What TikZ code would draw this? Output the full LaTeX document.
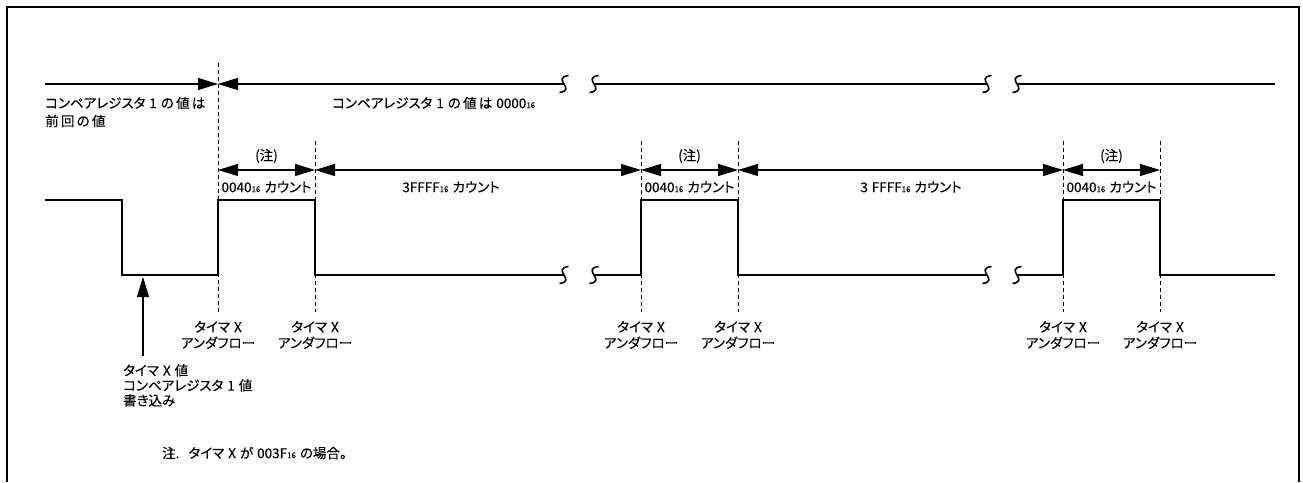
\documentclass[tikz,border=0pt]{standalone}
\usepackage{fontspec}
\setmainfont{Noto Sans CJK JP}[RawFeature=+palt,FakeBold=0.15]
\usetikzlibrary{arrows.meta}
\newcommand\hexsub[1]{{\fontsize{8}{8}\selectfont #1}}
\newcommand\gap{\hspace{4pt}}
\tikzset{
  tri/.tip={Triangle[length=20pt,width=12pt]},
  sigln/.style={line width=1.7pt},
  dimln/.style={line width=1.2pt},
  dashln/.style={line width=0.8pt,dash pattern=on 4pt off 3pt},
  lbl/.style={font=\fontsize{13.5}{16}\selectfont,inner sep=0pt},
  brk/.pic={
    \draw[line width=1.6pt] (-10.5,-8.5) .. controls (-28,-6) and (-2,6) .. (-19.5,8.5);
    \draw[line width=1.6pt] (19.5,-8.5) .. controls (2,-6) and (28,6) .. (10.5,8.5);
  }
}
\begin{document}
\begin{tikzpicture}[x=1pt,y=-1pt]
      \useasboundingbox (0,0) rectangle (1303,482);
      \draw[line width=2.5pt] (7,482) -- (7,7) -- (1299,7) -- (1299,482);

      %% underflow points
      \foreach \n/\x in {1/218,2/315,3/641,4/738,5/1063,6/1160} {
        \coordinate (a\n) at (\x,141);
        \coordinate (d\n) at (\x,170);
        \coordinate (u\n) at (\x,312);
        \node[lbl,align=center] (uf\n) at (\x,335) {タイマ\gap X\\アンダフロー};
      }
      \coordinate (a1) at (218,63);
      \foreach \n in {1,...,6} \draw[dashln] (a\n) -- (u\n);

      %% compare register line
      \coordinate (s0) at (45,84);
      \coordinate (s1) at (218,84);
      \draw[dimln,-tri] (s0) -- (s1);
      \draw[dimln,tri-] (s1) -- (564,84);
      \pic at (579,84) {brk};
      \draw[dimln] (594,84) -- (987,84);
      \pic at (1002,84) {brk};
      \draw[dimln] (1017,84) -- (1275,84);
      \node[lbl,align=left,anchor=west] (old) at (45,112)
        {コンペアレジスタ\gap 1\gap の\,値\,は\\[2pt]前\,回\,の\,値};
      \node[lbl,anchor=west] (new) at (332,103)
        {コンペアレジスタ\gap 1\gap の\,値\,は\gap 0000\hexsub{16}};

      %% counts
      \draw[dimln,tri-tri] (d1) -- (d2);
      \draw[dimln,tri-tri] (d2) -- (d3);
      \draw[dimln,tri-tri] (d3) -- (d4);
      \draw[dimln,tri-tri] (d4) -- (d5);
      \draw[dimln,tri-tri] (d5) -- (d6);
      \node[lbl] (n1) at (266.5,156) {(注)};
      \node[lbl] (n2) at (689.5,156) {(注)};
      \node[lbl] (n3) at (1111.5,156) {(注)};
      \node[lbl] (c1) at (266.5,187) {0040\hexsub{16}\gap カウント};
      \node[lbl] (c2) at (689.5,187) {0040\hexsub{16}\gap カウント};
      \node[lbl] (c3) at (1111.5,187) {0040\hexsub{16}\gap カウント};
      \node[lbl] (c4) at (451,187) {3FFFF\hexsub{16}\gap カウント};
      \node[lbl] (c5) at (911,187) {3\gap FFFF\hexsub{16}\gap カウント};

      %% signal
      \draw[sigln] (45,200) -- (122,200) -- (122,275) -- (218,275) -- (218,200)
        -- (315,200) -- (315,275) -- (564,275);
      \pic at (579,275) {brk};
      \draw[sigln] (594,275) -- (641,275) -- (641,200) -- (738,200) -- (738,275) -- (987,275);
      \pic at (1002,275) {brk};
      \draw[sigln] (1017,275) -- (1063,275) -- (1063,200) -- (1160,200) -- (1160,275) -- (1275,275);

      %% write
      \coordinate (w0) at (143,356);
      \coordinate (w1) at (143,277);
      \draw[dimln,-tri] (w0) -- (w1);
      \node[lbl,align=left,anchor=north west] (wr) at (123,364)
        {タイマ\gap X\gap 値\\[-1pt]コンペアレジスタ\gap 1\gap 値\\[-1pt]書き込み};

      \node[lbl,anchor=west] (note) at (162,453)
        {注.\hspace{9pt}タイマ\gap X\gap が\gap 003F\hexsub{16}\gap の場合。};
    \end{tikzpicture}
\end{document}
